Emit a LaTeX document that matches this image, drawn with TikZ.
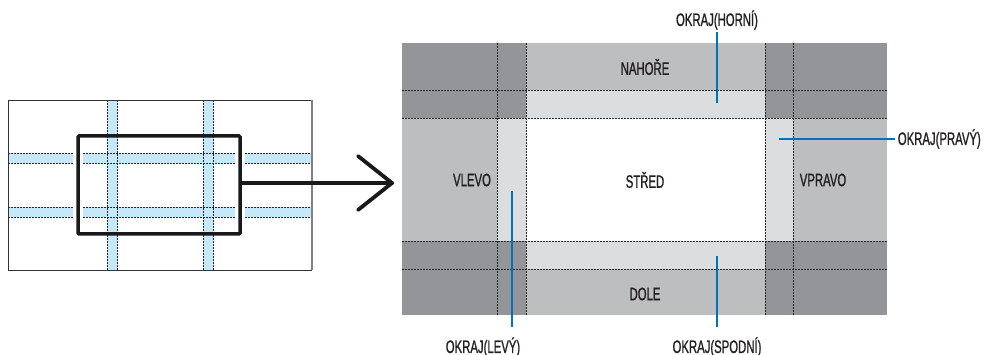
\documentclass[tikz,border=0pt]{standalone}
\usepackage{fontspec}
\setmainfont{Liberation Sans}[FakeStretch=0.63, FakeBold=1]
\definecolor{cdark}{HTML}{939598}
\definecolor{cmed}{HTML}{BCBEC0}
\definecolor{clight}{HTML}{DCDDDF}
\definecolor{cstripe}{HTML}{C6E9FA}
\definecolor{clead}{HTML}{0071BC}
\definecolor{ctxt}{HTML}{231F20}
\tikzset{
  dashline/.style={draw=black!85, line width=0.9pt, dash pattern=on 1.6pt off 1.4pt},
  lead/.style={draw=clead, line width=2.6pt},
  lbl/.style={font=\fontsize{18}{20}\selectfont, text=ctxt, inner sep=0pt},
  winbox/.style={draw=black!90, line width=3.5pt, rounded corners=1pt, inner sep=0pt, fill=none},
  arrowline/.style={draw=black!90, line width=3.8pt, line cap=round, line join=round}
}
\begin{document}
\begin{tikzpicture}[x=1pt,y=-1pt]
\useasboundingbox (0,0) rectangle (984,355);

% ---------- left panel ----------
\fill[white] (8,100) rectangle (312,270);
\fill[cstripe] (8,153) rectangle (312,163);
\fill[cstripe] (8,207) rectangle (312,217);
\fill[cstripe] (107,100) rectangle (117,270);
\fill[cstripe] (203,100) rectangle (213,270);
\foreach \yy in {153,163,207,217} \draw[dashline] (8,\yy) -- (312,\yy);
\foreach \xx in {107,117,203,213} \draw[dashline] (\xx,100) -- (\xx,270);
\draw[black!80, line width=0.8pt] (312,100) -- (8,100) -- (8,270) -- (312,270);
\draw[gray, line width=1.3pt] (312,100) -- (312,270);
% white halo on window sides
\draw[white, line width=10pt] (78,140) -- (78,230);
\draw[white, line width=10pt] (240,140) -- (240,230);
\node[winbox, minimum width=162pt, minimum height=98pt] (win) at (159,185) {};
\coordinate (tip) at (392,183);
\draw[arrowline] (win.east |- tip) -- (tip);
\draw[arrowline] (tip) ++(-34,-27) -- (tip) -- ++(-34,27);

% ---------- right panel ----------
\fill[cmed] (402,43) rectangle (887,315);
\fill[cdark] (402,43) rectangle (526,118);
\fill[cdark] (765,43) rectangle (887,118);
\fill[cdark] (402,241) rectangle (526,315);
\fill[cdark] (765,241) rectangle (887,315);
\fill[clight] (526,90) rectangle (765,118);
\fill[clight] (526,241) rectangle (765,269);
\fill[clight] (497,118) rectangle (526,241);
\fill[clight] (765,118) rectangle (793,241);
\fill[white] (526,118) rectangle (765,241);
\foreach \yy in {90,118,241,269} \draw[dashline] (402,\yy) -- (887,\yy);
\foreach \xx in {497,526,765,793} \draw[dashline] (\xx,43) -- (\xx,315);

\node[lbl] (nahore) at (645,67) {NAHOŘE};
\node[lbl] (stred) at (645,180) {STŘED};
\node[lbl] (vlevo) at (472,180) {VLEVO};
\node[lbl] (vpravo) at (823,180) {VPRAVO};
\node[lbl] (dole) at (645,294) {DOLE};

% ---------- leader labels ----------
\node[lbl] (horni) at (717,20) {OKRAJ(HORNÍ)};
\coordinate (horniA) at (717,32);
\coordinate (horniB) at (717,103);
\draw[lead] (horniA) -- (horniB);

\node[lbl, anchor=east] (pravy) at (981,139) {OKRAJ(PRAVÝ)};
\coordinate (pravyA) at (779,139);
\draw[lead] (pravyA) -- ([xshift=-3pt]pravy.west);

\node[lbl] (levy) at (483,347) {OKRAJ(LEVÝ)};
\coordinate (levyA) at (512,191);
\coordinate (levyB) at (512,327);
\draw[lead] (levyA) -- (levyB);

\node[lbl] (spodni) at (717,347) {OKRAJ(SPODNÍ)};
\coordinate (spodniA) at (717,256);
\coordinate (spodniB) at (717,327);
\draw[lead] (spodniA) -- (spodniB);
\end{tikzpicture}
\end{document}
